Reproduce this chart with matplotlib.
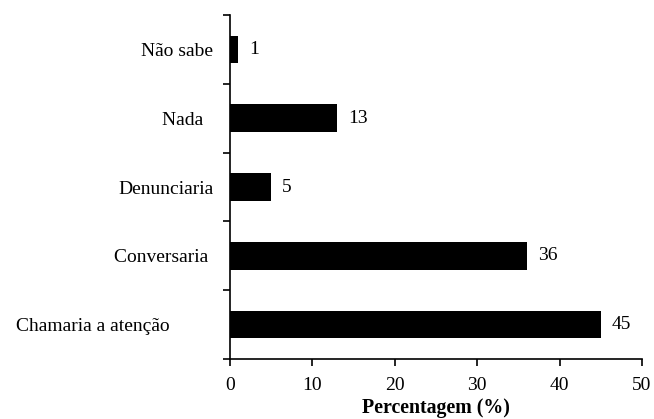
import matplotlib
matplotlib.use("Agg")
import matplotlib.pyplot as plt
import numpy as np

categories = ["Chamaria a atenção", "Conversaria", "Denunciaria", "Nada", "Não sabe"]
values = [45, 36, 5, 13, 1]
tick_labels = ["Chamaria a atenção         ", "Conversaria ", "Denunciaria", "Nada  ", "Não sabe"]
xticks = [0, 10, 20, 30, 40, 50]

plt.rcParams['font.family'] = ['Liberation Serif', 'DejaVu Serif']

fig = plt.figure(figsize=(6.54, 4.19), dpi=100)
ax = fig.add_axes([230/654, 1-359/419, (642-230)/654, (359-15)/419])

y = np.arange(len(categories))
bars = ax.barh(y, values, height=0.4, color='black')
ax.bar_label(bars, labels=[str(v) for v in values], padding=8, fontsize=14)

ax.set_xlim(0, 50)
ax.set_ylim(-0.5, len(categories) - 0.5)
ax.set_xticks(xticks)
ax.set_xticklabels([str(t) for t in xticks], fontsize=14)

ax.set_yticks(np.arange(-0.5, len(categories), 1.0))
ax.set_yticklabels([])
ax.set_yticks(y, minor=True)
ax.set_yticklabels(tick_labels, minor=True, fontsize=14)
ax.tick_params(axis='y', which='minor', length=0, pad=12)
ax.tick_params(axis='y', which='major', direction='out', length=5, width=1.2)
ax.tick_params(axis='x', direction='out', length=5, width=1.2, pad=8)

for s in ['top', 'right']:
    ax.spines[s].set_visible(False)
for s in ['left', 'bottom']:
    ax.spines[s].set_linewidth(1.2)

ax.set_xlabel("Percentagem (%)", fontsize=14.3, fontweight='bold', labelpad=3)

fig.savefig("out.png", dpi=100)
